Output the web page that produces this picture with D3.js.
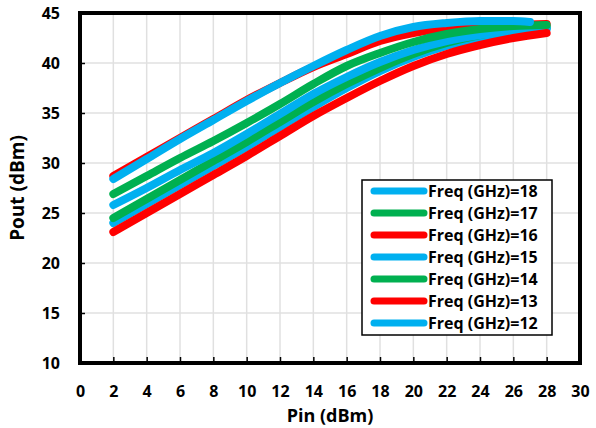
<!DOCTYPE html>
<html>
<head>
<meta charset="utf-8">
<script src="https://cdn.jsdelivr.net/npm/d3@7"></script>
<style>
  body { margin: 0; background: #fff; }
  svg text { font-family: "Open Sans", Lato, sans-serif; font-weight: bold; }
</style>
</head>
<body>
<div id="chart"></div>
<script>
// Pout vs Pin, one curve per frequency
const pinA = [2, 4, 6, 8, 10, 12, 14, 16, 18, 20, 22, 24, 26, 27]
const pinB = [2, 4, 6, 8, 10, 12, 14, 16, 18, 20, 22, 24, 26, 28]

const freqs = [18, 17, 16, 15, 14, 13, 12]
const colors = ["#00B0F0", "#00B050", "#FF0000", "#00B0F0", "#00B050", "#FF0000", "#00B0F0"]

const pout18 = [24.0, 25.9, 27.8, 29.7, 31.6, 33.6, 35.6, 37.5, 39.2, 40.6, 41.7, 42.5, 43.1, 43.4]
const pout17 = [24.5, 26.4, 28.3, 30.2, 32.1, 34.1, 36.1, 37.9, 39.5, 40.9, 42.0, 42.8, 43.3, 43.6]
const pout16 = [28.7, 30.6, 32.5, 34.4, 36.3, 38.0, 39.6, 40.9, 42.2, 43.0, 43.5, 43.7, 43.8, 43.9]
const pout15 = [25.8, 27.5, 29.3, 31.0, 32.9, 34.9, 36.9, 38.6, 40.1, 41.3, 42.2, 42.8, 43.2, 43.5]
const pout14 = [26.9, 28.7, 30.5, 32.2, 34.0, 35.9, 37.9, 39.7, 41.0, 42.1, 42.9, 43.4, 43.7, 43.8]
const pout13 = [23.1, 25.0, 26.9, 28.8, 30.7, 32.7, 34.7, 36.5, 38.2, 39.7, 40.9, 41.8, 42.5, 43.0]
const pout12 = [28.4, 30.4, 32.4, 34.3, 36.2, 38.0, 39.7, 41.3, 42.7, 43.6, 44.0, 44.2, 44.2, 44.1]

const pins = [pinB, pinB, pinB, pinB, pinB, pinB, pinA]
const pouts = [pout18, pout17, pout16, pout15, pout14, pout13, pout12]

const xTicks = d3.range(0, 31, 2)
const yTicks = [10, 15, 20, 25, 30, 35, 40, 45]

const WD = 596, HT = 428
const margin = { left: 80, right: 16, top: 13, bottom: 65 }
const width = WD - margin.left - margin.right
const height = HT - margin.top - margin.bottom

const svg = d3.select("#chart").append("svg")
    .attr("width", WD)
    .attr("height", HT)

const g = svg.append("g")
    .attr("transform", "translate(" + margin.left + "," + margin.top + ")")

const xs = d3.scaleLinear().domain([0, 30]).range([0, width])
const ys = d3.scaleLinear().domain([10, 45]).range([height, 0])

// grid
g.append("g").selectAll("line")
  .data(xTicks.slice(1, -1))
  .join("line")
    .attr("x1", d => xs(d)).attr("x2", d => xs(d))
    .attr("y1", 0).attr("y2", height)
    .attr("stroke", "#e0e0e0").attr("stroke-width", 1.5)

g.append("g").selectAll("line")
  .data(yTicks.slice(1, -1))
  .join("line")
    .attr("x1", 0).attr("x2", width)
    .attr("y1", d => ys(d)).attr("y2", d => ys(d))
    .attr("stroke", "#e0e0e0").attr("stroke-width", 1.5)

// curves
const line = d3.line()
    .x(d => xs(d[0]))
    .y(d => ys(d[1]))
    .curve(d3.curveMonotoneX)

freqs.forEach((f, i) => {
  const pts = pins[i].map((p, j) => [p, pouts[i][j]])
  g.append("path")
      .attr("d", line(pts))
      .attr("fill", "none")
      .attr("stroke", colors[i])
      .attr("stroke-width", 8)
      .attr("stroke-linecap", "round")
      .attr("stroke-linejoin", "round")
})

// axes
const xAxis = g.append("g")
    .attr("transform", "translate(0," + height + ")")
    .call(d3.axisBottom(xs).tickValues(xTicks).tickSizeInner(-6).tickSizeOuter(0).tickPadding(23))
const yAxis = g.append("g")
    .call(d3.axisLeft(ys).tickValues(yTicks).tickSizeInner(-5).tickSizeOuter(0).tickPadding(20))

;[xAxis, yAxis].forEach(a => {
  a.select(".domain").remove()
  a.selectAll(".tick line").attr("stroke", "#000").attr("stroke-width", 1.5)
  a.selectAll(".tick text").attr("font-size", "16px").attr("fill", "#000")
})
xAxis.selectAll(".tick").filter(d => d === 0 || d === 30).select("line").remove()
yAxis.selectAll(".tick").filter(d => d === 10 || d === 45).select("line").remove()

// frame
g.append("rect")
    .attr("x", 0).attr("y", 0)
    .attr("width", width).attr("height", height)
    .attr("fill", "none")
    .attr("stroke", "#000")
    .attr("stroke-width", 4)

// axis titles
svg.append("text")
    .attr("x", margin.left + width / 2)
    .attr("y", 422)
    .attr("text-anchor", "middle")
    .attr("font-size", "18px")
    .text("Pin (dBm)")

svg.append("text")
    .attr("transform", "translate(24," + (margin.top + height / 2) + ") rotate(-90)")
    .attr("text-anchor", "middle")
    .attr("font-size", "19px")
    .text("Pout (dBm)")

// legend
const leg = svg.append("g")
leg.append("rect")
    .attr("x", 362).attr("y", 180)
    .attr("width", 190).attr("height", 155)
    .attr("fill", "#fff")
    .attr("stroke", "#000")
    .attr("stroke-width", 1.5)

const rows = leg.selectAll("g.row")
  .data(freqs)
  .join("g")
    .attr("class", "row")
    .attr("transform", (d, i) => "translate(0," + (191 + i * 22) + ")")

rows.append("line")
    .attr("x1", 374).attr("x2", 424)
    .attr("stroke", (d, i) => colors[i])
    .attr("stroke-width", 7)
    .attr("stroke-linecap", "round")

rows.append("text")
    .attr("x", 428)
    .attr("dy", "0.36em")
    .attr("font-size", "16px")
    .text(d => "Freq (GHz)=" + d)
</script>
</body>
</html>
